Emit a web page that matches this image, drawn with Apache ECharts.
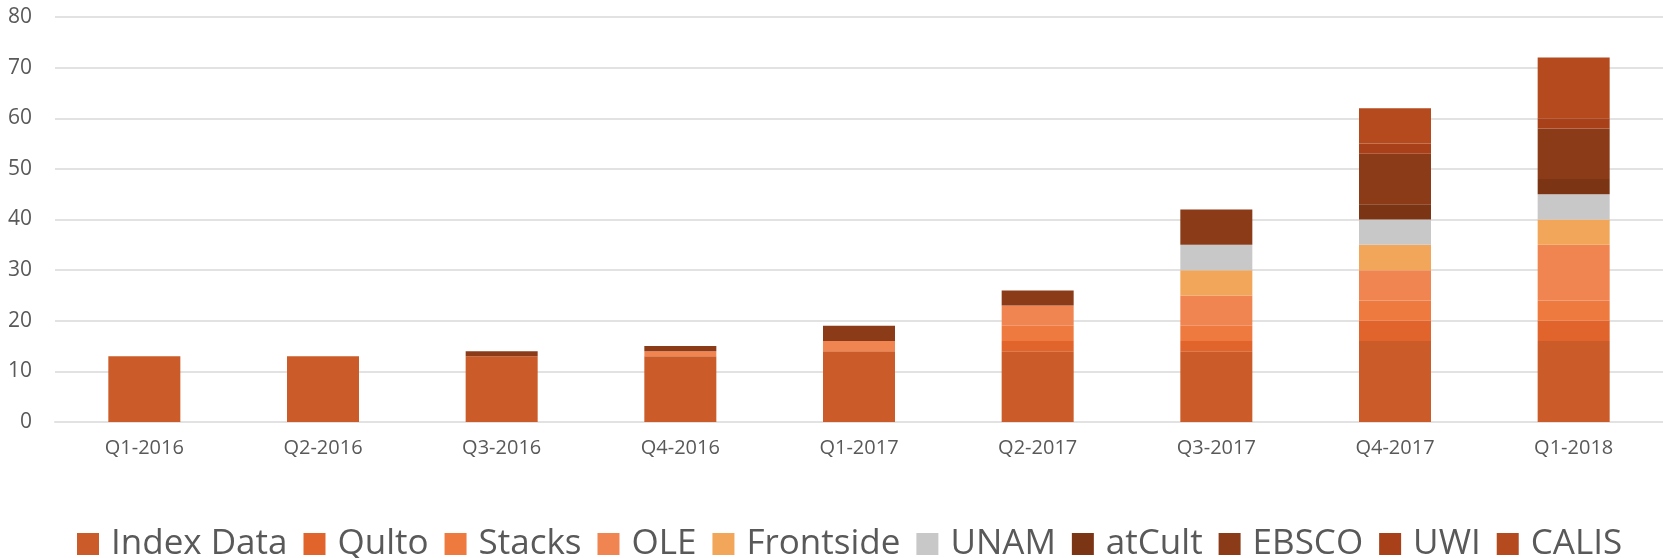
<!DOCTYPE html>
<html>
<head>
<meta charset="utf-8">
<script src="https://cdn.jsdelivr.net/npm/echarts@6/dist/echarts.min.js"></script>
<style>
html,body{margin:0;padding:0;background:#fff;}
#chart{width:1663px;height:558px;}
</style>
</head>
<body>
<div id="chart"></div>
<script>
var categories = ['Q1-2016','Q2-2016','Q3-2016','Q4-2016','Q1-2017','Q2-2017','Q3-2017','Q4-2017','Q1-2018'];
var seriesNames = ['Index Data','Qulto','Stacks','OLE','Frontside','UNAM','atCult','EBSCO','UWI','CALIS'];
var indexData = [13,13,13,13,14,14,14,16,16];
var qulto     = [0,0,0,0,0,2,2,4,4];
var stacks    = [0,0,0,0,0,3,3,4,4];
var ole       = [0,0,0,1,2,4,6,6,11];
var frontside = [0,0,0,0,0,0,5,5,5];
var unam      = [0,0,0,0,0,0,5,5,5];
var atcult    = [0,0,0,0,0,0,0,3,3];
var ebsco     = [0,0,1,1,3,3,7,10,10];
var uwi       = [0,0,0,0,0,0,0,2,2];
var calis     = [0,0,0,0,0,0,0,7,12];
var yTicks = [0,10,20,30,40,50,60,70,80];

var seriesValues = [indexData,qulto,stacks,ole,frontside,unam,atcult,ebsco,uwi,calis];
var colors = ['#CB5B29','#E2642D','#EF7A40','#F08552','#F2A65A','#C8C8C8','#7B3515','#8B3B18','#A8401A','#B44A1E'];

var font = '"Open Sans", "Noto Sans", sans-serif';
var chart = echarts.init(document.getElementById('chart'), null, {renderer:'canvas'});
chart.setOption({
  animation:false,
  color: colors,
  grid:{left:55,right:0,top:17,bottom:136,containLabel:false},
  legend:{
    data: seriesNames,
    left: 72,
    top: 521,
    itemWidth:22,
    itemHeight:22,
    itemGap:16,
    icon:'rect',
    textStyle:{fontFamily:font,fontSize:35,color:'#595959',lineHeight:36,padding:[0,0,0,7]}
  },
  xAxis:{
    type:'category',
    data: categories,
    axisLine:{show:true,lineStyle:{color:'#E2E2E2',width:2}},
    axisTick:{show:false},
    axisLabel:{fontFamily:font,fontSize:20,color:'#595959',margin:16}
  },
  yAxis:{
    type:'value',
    min:yTicks[0],
    max:yTicks[yTicks.length-1],
    interval:10,
    axisLine:{show:false},
    axisTick:{show:false},
    splitLine:{lineStyle:{color:'#E2E2E2',width:2}},
    axisLabel:{fontFamily:font,fontSize:21,color:'#595959',margin:23}
  },
  series: seriesNames.map(function(n,i){
    return {
      name:n,
      type:'bar',
      stack:'total',
      barWidth:72,
      data: seriesValues[i],
      itemStyle:{color:colors[i]}
    };
  })
});
</script>
</body>
</html>
